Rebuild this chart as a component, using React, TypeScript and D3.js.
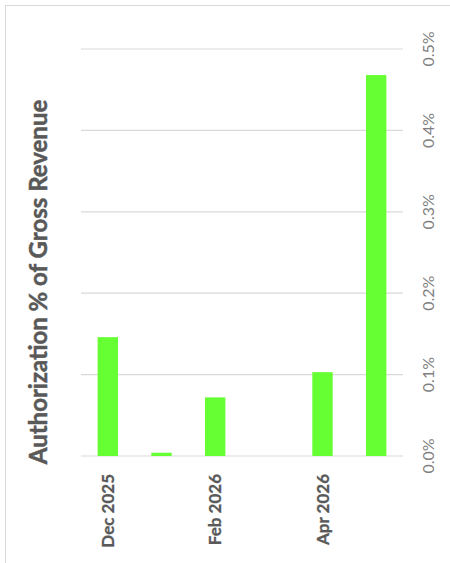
import React from "react";
import * as d3 from "d3";

const categories = ["Dec 2025", "Jan 2026", "Feb 2026", "Mar 2026", "Apr 2026", "May 2026"];
const values = [0.146, 0.004, 0.072, 0, 0.103, 0.468];
const shownLabels = ["Dec 2025", "Feb 2026", "Apr 2026"];
const yTicks = [0, 0.1, 0.2, 0.3, 0.4, 0.5];
const yTitle = "Authorization % of Gross Revenue";

export default function App() {
  const W = 450, H = 563;
  const x = d3.scaleBand<string>().domain(categories).range([81, 403]).paddingInner(0.62).paddingOuter(0.31);
  const y = d3.scaleLinear().domain([0, 0.5]).range([456, 49]);
  const font = "Lato, 'Open Sans', sans-serif";
  return (
    <svg width={W} height={H} style={{ position: "absolute", left: 0, top: 0, background: "#fff" }}>
      <rect x={5.5} y={5.5} width={W + 10} height={H - 5} fill="none" stroke="#d9d9d9" strokeWidth={1} />
      {yTicks.map((t) => (
        <g key={t}>
          <line x1={81} x2={403} y1={y(t)} y2={y(t)} stroke="#d9d9d9" strokeWidth={1.2} />
          <text
            transform={`translate(${434},${y(t)}) rotate(-90)`}
            textAnchor="middle"
            fontFamily={font}
            fontSize={16}
            fill="#7f7f7f"
          >
            {t.toFixed(1) + "%"}
          </text>
        </g>
      ))}
      {categories.map((c, i) => (
        <rect
          key={c}
          x={x(c)}
          y={y(values[i])}
          width={x.bandwidth()}
          height={y(0) - y(values[i])}
          fill="#66ff33"
        />
      ))}
      {categories.filter((c) => shownLabels.includes(c)).map((c) => (
        <text
          key={c}
          transform={`translate(${(x(c) as number) + x.bandwidth() / 2 + 6},${474}) rotate(-90)`}
          textAnchor="end"
          fontFamily={font}
          fontWeight="bold"
          fontSize={17}
          fill="#595959"
          stroke="#595959"
          strokeWidth={0.3}
        >
          {c}
        </text>
      ))}
      <text
        transform={`translate(${47},${282}) rotate(-90)`}
        textAnchor="middle"
        fontFamily={font}
        fontWeight="bold"
        fontSize={24}
        fill="#595959"
        stroke="#595959"
        strokeWidth={0.5}
      >
        {yTitle}
      </text>
    </svg>
  );
}
